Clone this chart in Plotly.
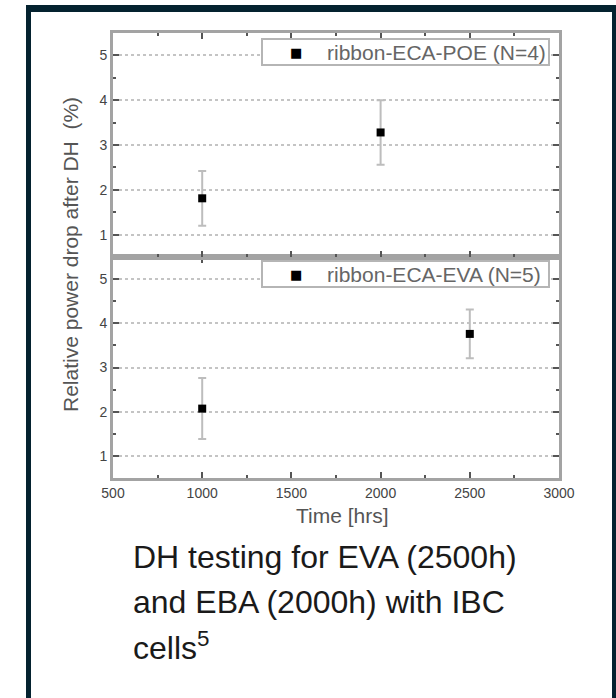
import plotly.graph_objects as go

# ---- data ----
poe_time = [1000, 2000]
poe_drop = [1.81, 3.28]
poe_err = [0.61, 0.72]
poe_label = "ribbon-ECA-POE (N=4)"

eva_time = [1000, 2500]
eva_drop = [2.07, 3.76]
eva_err = [0.69, 0.55]
eva_label = "ribbon-ECA-EVA (N=5)"

x_ticks = [500, 1000, 1500, 2000, 2500, 3000]
y_ticks = [1, 2, 3, 4, 5]
y_title = "Relative power drop after DH  (%)"
x_title = "Time [hrs]"
caption_lines = ["DH testing for EVA (2500h)", "and EBA (2000h) with IBC", "cells<sup>5</sup>"]

# ---- layout geometry (pixels) ----
W, H = 616, 698
L, R, T, B = 113, 559, 33, 478
pw, ph = R - L, B - T


def px(x):
    return (x - L) / pw


def py(y):
    return (B - y) / ph


split = py(257)
FRAME = "#04222f"
AXC = "#a3a3a3"
TXT = "#555555"
FONT = "Liberation Sans, Arial, sans-serif"

fig = go.Figure()

err_style = dict(type="data", color="#bdbdbd", thickness=2, width=4)
mk = dict(symbol="square", size=8, color="black")

fig.add_trace(go.Scatter(
    x=poe_time, y=poe_drop, mode="markers", name=poe_label,
    marker=mk, error_y=dict(array=poe_err, **err_style),
    xaxis="x2", yaxis="y2", showlegend=False))
fig.add_trace(go.Scatter(
    x=eva_time, y=eva_drop, mode="markers", name=eva_label,
    marker=mk, error_y=dict(array=eva_err, **err_style),
    xaxis="x", yaxis="y", showlegend=False))

xcommon = dict(range=[500, 3000], tickvals=x_ticks, ticks="inside", ticklen=6,
               tickwidth=1.5, tickcolor="#555", showline=True, linecolor=AXC,
               linewidth=3, mirror="ticks", showgrid=False, zeroline=False,
               minor=dict(dtick=250, tick0=500, ticks="inside", ticklen=3,
                          tickcolor="#555", showgrid=False),
               tickfont=dict(size=14, color="#444", family=FONT))
ycommon = dict(range=[0.5, 5.5], tickvals=y_ticks, ticks="inside", ticklen=6,
               tickwidth=1.5, tickcolor="#555", showline=True, linecolor=AXC,
               linewidth=3, mirror="ticks", showgrid=True, gridcolor="#c4c4c4",
               griddash="dot", gridwidth=1.5, zeroline=False,
               minor=dict(dtick=0.5, tick0=0.5, ticks="inside", ticklen=3,
                          tickcolor="#555", showgrid=False),
               tickfont=dict(size=14, color="#444", family=FONT))

fig.update_layout(
    width=W, height=H,
    margin=dict(l=L, r=W - R, t=T, b=H - B, pad=0),
    paper_bgcolor="white", plot_bgcolor="white",
    font=dict(family=FONT, color=TXT),
    xaxis=dict(anchor="y", **xcommon),
    xaxis2=dict(anchor="y2", matches="x", showticklabels=False, **xcommon),
    yaxis=dict(domain=[0, split], anchor="x", **ycommon),
    yaxis2=dict(domain=[split, 1], anchor="x2", **ycommon),
    showlegend=False,
)

# dark frame around the card
fig.add_shape(type="rect", xref="paper", yref="paper",
              x0=px(26), x1=px(630), y0=py(720), y1=py(5),
              fillcolor=FRAME, line=dict(width=0), layer="below")
fig.add_shape(type="rect", xref="paper", yref="paper",
              x0=px(31), x1=px(612), y0=py(720), y1=py(12),
              fillcolor="white", line=dict(width=0), layer="below")

# legend boxes (drawn as box + symbol + text)
for label, top in [(poe_label, 39), (eva_label, 261)]:
    fig.add_shape(type="rect", xref="paper", yref="paper",
                  x0=px(262), x1=px(549), y0=py(top + 26), y1=py(top),
                  fillcolor="white", line=dict(color="#b5b5b5", width=2), layer="above")
    fig.add_annotation(text="■", xref="paper", yref="paper", x=px(296), y=py(top + 13),
                       showarrow=False, xanchor="center", yanchor="middle",
                       font=dict(size=13, color="black", family="DejaVu Sans"))
    fig.add_annotation(text=label, xref="paper", yref="paper", x=px(325), y=py(top + 13),
                       showarrow=False, xanchor="left", yanchor="middle",
                       font=dict(size=21, color="#666", family=FONT))

# axis titles
fig.add_annotation(text=y_title, xref="paper", yref="paper", x=px(71), y=py(255),
                   textangle=-90, showarrow=False, xanchor="center", yanchor="middle",
                   font=dict(size=21, color=TXT, family=FONT))
fig.add_annotation(text=x_title, xref="paper", yref="paper", x=px(342), y=py(515),
                   showarrow=False, xanchor="center", yanchor="middle",
                   font=dict(size=21, color=TXT, family=FONT))

# caption
for line, yc in zip(caption_lines, [557, 602, 646]):
    fig.add_annotation(text=line, xref="paper", yref="paper", x=px(131), y=py(yc),
                       showarrow=False, xanchor="left", yanchor="middle",
                       font=dict(size=32, color="#1a1a1a", family=FONT))

fig.write_html("out.html")
